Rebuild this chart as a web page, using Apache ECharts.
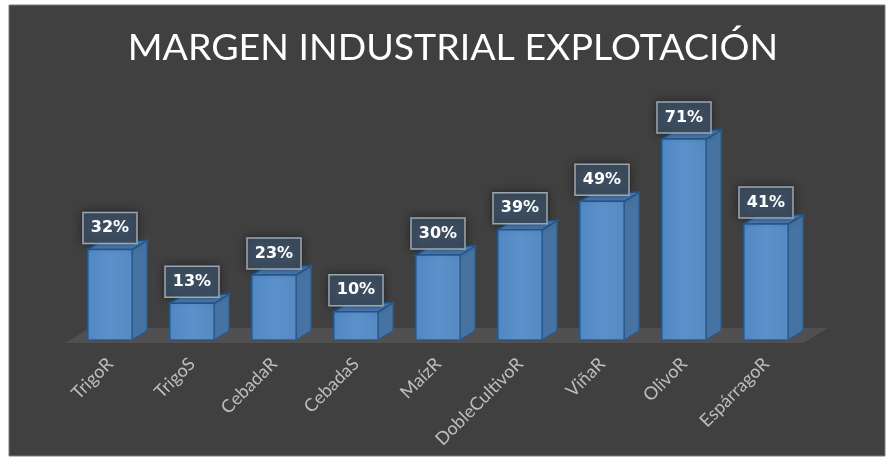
<!DOCTYPE html>
<html>
<head>
<meta charset="utf-8">
<script src="https://cdn.jsdelivr.net/npm/echarts@6/dist/echarts.min.js"></script>
<style>
  html, body { margin: 0; padding: 0; background: #fff; }
  #chart { width: 888px; height: 459px; }
</style>
</head>
<body>
<div id="chart"></div>
<script>
// margen por cultivo (%)
var categories = ['TrigoR', 'TrigoS', 'CebadaR', 'CebadaS', 'MaízR', 'DobleCultivoR', 'ViñaR', 'OlivoR', 'EspárragoR'];
var margen = [32, 13, 23, 10, 30, 39, 49, 71, 41];

var DX = 15, DY = 9; // profundidad 3D

function renderBar(params, api) {
    var idx = api.value(0);
    var val = api.value(1);
    var top = api.coord([idx, val]);
    var base = api.coord([idx, 0]);
    var w = api.size([1, 0])[0] * 0.54;
    var l = top[0] - w / 2, r = top[0] + w / 2;
    var ty = top[1], by = base[1];
    var border = { stroke: '#275a8f', lineWidth: 1.5 };
    return {
        type: 'group',
        children: [
            {
                type: 'polygon',
                shape: { points: [[r, ty], [r + DX, ty - DY], [r + DX, by - DY], [r, by]] },
                style: Object.assign({ fill: '#4673a2' }, border)
            },
            {
                type: 'polygon',
                shape: { points: [[l, ty], [l + DX, ty - DY], [r + DX, ty - DY], [r, ty]] },
                style: Object.assign({ fill: '#4e7fb6' }, border)
            },
            {
                type: 'rect',
                shape: { x: l, y: ty, width: w, height: by - ty },
                style: Object.assign({
                    fill: new echarts.graphic.LinearGradient(0, 0, 1, 0, [
                        { offset: 0, color: '#5088c3' },
                        { offset: 0.5, color: '#5b91ca' },
                        { offset: 1, color: '#5589c2' }
                    ])
                }, border)
            },
            {
                type: 'rect',
                shape: { x: top[0] - 27, y: ty - 37, width: 54, height: 31 },
                style: {
                    fill: 'rgba(62,80,100,0.92)',
                    stroke: '#9ea6ae',
                    lineWidth: 1.5,
                    shadowBlur: 8,
                    shadowColor: 'rgba(0,0,0,0.45)'
                }
            },
            {
                type: 'text',
                style: {
                    text: val + '%',
                    x: top[0],
                    y: ty - 21.5,
                    align: 'center',
                    verticalAlign: 'middle',
                    fill: '#ffffff',
                    font: 'bold 16px "DejaVu Sans"'
                }
            }
        ]
    };
}

function renderFloor(params, api) {
    var cs = params.coordSys;
    var x0 = cs.x, x1 = cs.x + cs.width, y = cs.y + cs.height;
    return {
        type: 'polygon',
        shape: { points: [[x0 - 4, y + 3], [x1 - 4, y + 3], [x1 + 21, y - 12], [x0 + 21, y - 12]] },
        style: { fill: '#514f4f' }
    };
}

var chart = echarts.init(document.getElementById('chart'));
chart.setOption({
    backgroundColor: '#ffffff',
    animation: false,
    graphic: [{
        type: 'rect',
        z: -10,
        shape: { x: 9, y: 5, width: 876, height: 451 },
        style: { fill: '#404040', stroke: '#7a7a7a', lineWidth: 1 }
    }],
    title: {
        text: 'MARGEN INDUSTRIAL EXPLOTACIÓN',
        left: 448,
        top: 24,
        textAlign: 'center',
        textStyle: {
            color: '#ffffff',
            fontFamily: 'Lato',
            fontWeight: 'normal',
            fontSize: 37.5
        }
    },
    grid: { left: 69, right: 81, top: 57, bottom: 119 },
    xAxis: {
        type: 'category',
        data: categories,
        axisLine: { show: false },
        axisTick: { show: false },
        axisLabel: {
            rotate: 45,
            interval: 0,
            margin: 21,
            color: '#bdbdbd',
            fontFamily: 'Lato',
            fontSize: 18
        }
    },
    yAxis: {
        type: 'value',
        min: 0,
        max: 100,
        show: false
    },
    series: [
        {
            type: 'custom',
            renderItem: renderFloor,
            data: [[0]],
            z: 1,
            silent: true
        },
        {
            type: 'custom',
            renderItem: renderBar,
            data: margen.map(function (v, i) { return [i, v]; }),
            encode: { x: 0, y: 1 },
            z: 2
        }
    ]
});
</script>
</body>
</html>
